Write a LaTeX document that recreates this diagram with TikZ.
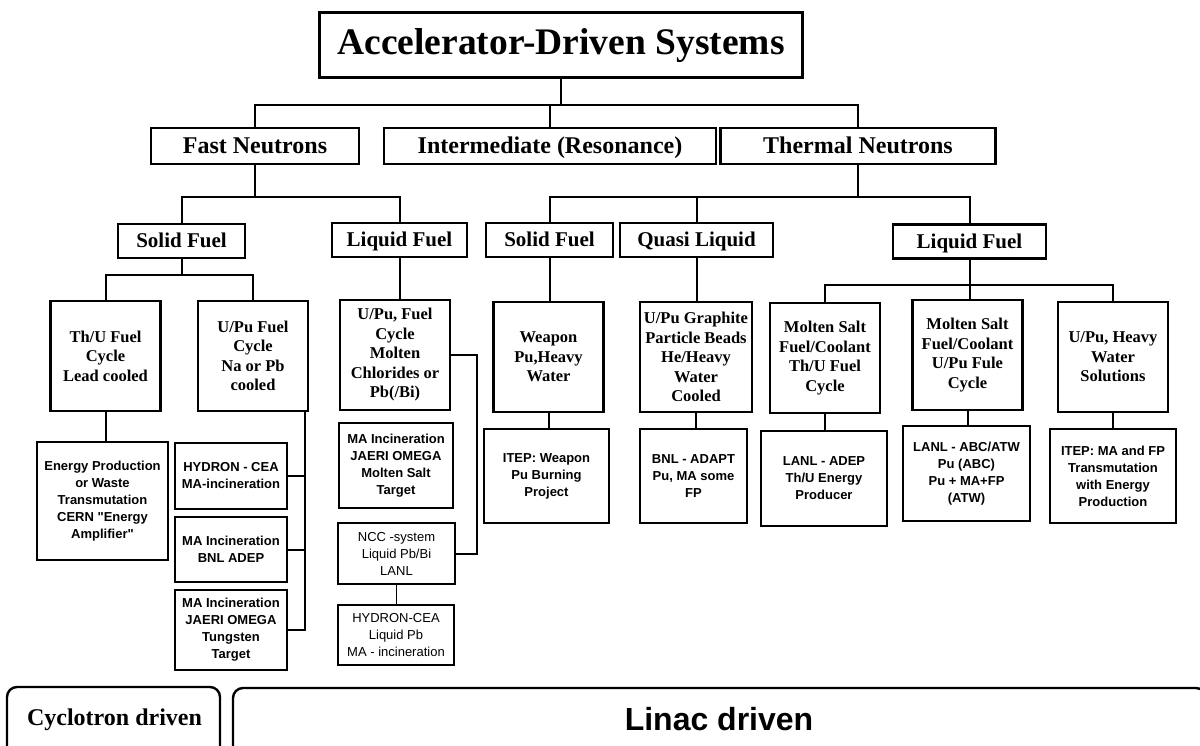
\documentclass[tikz,border=0pt]{standalone}
\usepackage{fontspec}
\setmainfont{Liberation Serif}
\setsansfont{Liberation Sans}[Ligatures=TeXOff]
\tikzset{
  topbox/.style={draw, line width=3pt, inner sep=0pt, align=center, font=\fontsize{37.5}{42}\bfseries\selectfont},
  classbox/.style={draw, line width=2.5pt, inner sep=0pt, minimum height=36pt, text height=16pt, text depth=0pt, align=center, font=\fontsize{24}{28}\bfseries\selectfont},
  fuelbox/.style={draw, line width=2.5pt, inner sep=0pt, minimum height=34pt, text height=14pt, text depth=0pt, align=center, font=\fontsize{21}{25}\bfseries\selectfont},
  descbox/.style={draw, line width=2.8pt, inner sep=0pt, minimum width=110pt, minimum height=110pt, align=center, font=\fontsize{16.5}{19.5}\bfseries\selectfont},
  projbox/.style={draw, line width=2.6pt, inner sep=0pt, align=center, font=\sffamily\fontsize{13}{17}\bfseries\selectfont},
  thinbox/.style={draw, line width=1.3pt, inner sep=0pt, align=center, font=\sffamily\fontsize{13}{17}\selectfont},
  drvbox/.style={draw, line width=2.4pt, rounded corners=10pt},
  link/.style={line width=2pt},
}
\begin{document}
\begin{tikzpicture}[x=1pt,y=-1pt]
\useasboundingbox (0,0) rectangle (1200,746);
\clip (0,0) rectangle (1200,746);

% title
\node[topbox, minimum width=483pt, minimum height=65pt] (ads) at (561,45.5) {Accelerator-Driven Systems};

% neutron spectrum
\node[classbox, minimum width=208pt] (fast) at (255,146) {Fast Neutrons};
\node[classbox, minimum width=332pt] (inter) at (550,146) {Intermediate (Resonance)};
\node[classbox, minimum width=275pt] (therm) at (858,146) {Thermal Neutrons};

\coordinate (specbar) at (0,105);
\draw[link] (ads.south) -- (ads.south |- specbar);
\draw[link] (fast.north) |- (therm.north |- specbar) -- (therm.north);
\draw[link] (inter.north) -- (inter.north |- specbar);

% fuel type
\node[fuelbox, minimum width=127pt] (fsolid) at (181.5,241) {Solid Fuel};
\node[fuelbox, minimum width=135pt] (fliquid) at (399.5,240) {Liquid Fuel};
\node[fuelbox, minimum width=127pt] (tsolid) at (549.5,240) {Solid Fuel};
\node[fuelbox, minimum width=153pt] (tquasi) at (696.5,240) {Quasi Liquid};
\node[fuelbox, minimum width=153pt] (tliquid) at (969.5,241.5) {Liquid Fuel};

\coordinate (fuelbar) at (0,197);
\draw[link] (fast.south) -- (fast.south |- fuelbar);
\draw[link] (fsolid.north) |- (fliquid.north |- fuelbar) -- (fliquid.north);
\draw[link] (therm.south) -- (therm.south |- fuelbar);
\draw[link] (tsolid.north) |- (tliquid.north |- fuelbar) -- (tliquid.north);
\draw[link] (tquasi.north) -- (tquasi.north |- fuelbar);

% fuel cycles
\node[descbox] (thu) at (105.5,356) {Th/U Fuel\\Cycle\\Lead cooled};
\node[descbox] (upuna) at (253,356) {U/Pu Fuel\\Cycle\\Na or Pb\\cooled};
\node[descbox] (upucl) at (395,355) {U/Pu, Fuel\\Cycle\\Molten\\Chlorides or\\Pb(/Bi)};
\node[descbox] (wpu) at (548.5,357) {Weapon\\Pu,Heavy\\Water};
\node[descbox, minimum width=112pt] (beads) at (696,357) {U/Pu Graphite\\Particle Beads\\He/Heavy\\Water\\Cooled};
\node[descbox] (msthu) at (825,358) {Molten Salt\\Fuel/Coolant\\Th/U Fuel\\Cycle};
\node[descbox] (mspu) at (967.5,355) {Molten Salt\\Fuel/Coolant\\U/Pu Fule\\Cycle};
\node[descbox] (hwsol) at (1113,357) {U/Pu, Heavy\\Water\\Solutions};

\coordinate (fsbar) at (0,275);
\draw[link] (fsolid.south) -- (fsolid.south |- fsbar);
\draw[link] (thu.north) |- (upuna.north |- fsbar) -- (upuna.north);
\draw[link] (fliquid.south) -- (fliquid.south |- upucl.north);
\draw[link] (tsolid.south) -- (tsolid.south |- wpu.north);
\draw[link] (tquasi.south) -- (tquasi.south |- beads.north);
\coordinate (tlbar) at (0,285);
\draw[link] (tliquid.south) -- (tliquid.south |- mspu.north);
\draw[link] (msthu.north) |- (hwsol.north |- tlbar) -- (hwsol.north);

% projects
\node[projbox, minimum width=131pt, minimum height=118pt] (ea) at (102.5,501) {Energy Production\\or Waste\\Transmutation\\CERN "Energy\\Amplifier"};
\node[projbox, minimum width=112pt, minimum height=66pt] (hycea) at (231,476) {HYDRON - CEA\\MA-incineration};
\node[projbox, minimum width=112pt, minimum height=65pt] (adep) at (231,549.5) {MA Incineration\\BNL ADEP};
\node[projbox, minimum width=112pt, minimum height=80pt] (omegaw) at (231,630) {MA Incineration\\JAERI OMEGA\\Tungsten\\Target};
\node[projbox, minimum width=114pt, minimum height=85pt] (omegams) at (396,465.5) {MA Incineration\\JAERI OMEGA\\Molten Salt\\Target};
\node[thinbox, line width=2pt, minimum width=117pt, minimum height=61pt] (ncc) at (396.5,553.5) {NCC -system\\Liquid Pb/Bi\\LANL};
\node[thinbox, minimum width=116pt, minimum height=60pt] (hypb) at (396,635) {HYDRON-CEA\\Liquid Pb\\MA - incineration};
\node[projbox, minimum width=125pt, minimum height=94pt] (itepw) at (546.5,476) {ITEP: Weapon\\Pu Burning\\Project};
\node[projbox, minimum width=107pt, minimum height=94pt] (adapt) at (693.5,476) {BNL - ADAPT\\Pu, MA some\\FP};
\node[projbox, minimum width=126pt, minimum height=95pt] (adepth) at (824,478.5) {LANL - ADEP\\Th/U Energy\\Producer};
\node[projbox, minimum width=127pt, minimum height=95pt] (atw) at (966.5,473.5) {LANL - ABC/ATW\\Pu (ABC)\\Pu + MA+FP\\(ATW)};
\node[projbox, minimum width=126pt, minimum height=94pt] (itepm) at (1113,476) {ITEP: MA and FP\\Transmutation\\with Energy\\Production};

\draw[link] (thu.south) -- (thu.south |- ea.north);
\coordinate (spine) at (305,0);
\draw[link] (upuna.south -| spine) |- (omegaw.east);
\draw[link] (hycea.east) -- (hycea.east -| spine);
\draw[link] (adep.east) -- (adep.east -| spine);
\coordinate (elbow) at (477,0);
\draw[link] (upucl.east) -| (ncc.east -| elbow) -- (ncc.east);
\draw[line width=1.2pt] (ncc.south) -- (ncc.south |- hypb.north);
\draw[link] (wpu.south) -- (wpu.south |- itepw.north);
\draw[link] (beads.south) -- (beads.south |- adapt.north);
\draw[link] (msthu.south) -- (msthu.south |- adepth.north);
\draw[link] (mspu.south) -- (mspu.south |- atw.north);
\draw[link] (hwsol.south) -- (hwsol.south |- itepm.north);

% drivers
\draw[drvbox] (7,687) rectangle (220,780);
\draw[drvbox] (233,688) rectangle (1206,780);
\node[font=\fontsize{24}{28}\bfseries\selectfont] (cyc) at (114.5,720) {Cyclotron driven};
\node[font=\sffamily\fontsize{32}{36}\bfseries\selectfont] (linac) at (719,719) {Linac driven};

\end{tikzpicture}
\end{document}
